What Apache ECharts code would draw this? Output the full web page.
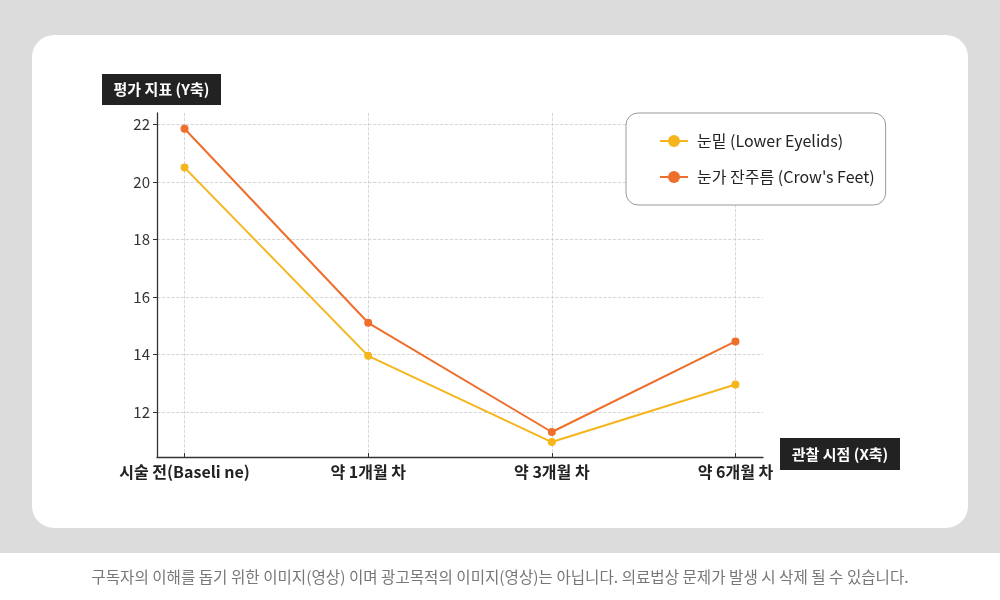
<!DOCTYPE html>
<html>
<head>
<meta charset="utf-8">
<script src="https://cdn.jsdelivr.net/npm/echarts@6/dist/echarts.min.js"></script>
<style>
  html, body { margin: 0; padding: 0; background: #fff; }
  #chart { width: 1000px; height: 600px; }
</style>
</head>
<body>
<div id="chart"></div>
<script>
// 관찰 시점 (x) 과 두 부위 평가 지표
const categories = ['시술 전(Baseli ne)', '약 1개월 차', '약 3개월 차', '약 6개월 차'];
const underEye = [20.5, 13.95, 10.95, 12.95];
const crowsFeet = [21.85, 15.1, 11.3, 14.45];
const yTicks = [12, 14, 16, 18, 20, 22];
const xTicks = [0, 1, 2, 3];

const seriesNames = ['눈밑 (Lower Eyelids)', '눈가 잔주름 (Crow\'s Feet)'];
const colors = ['#F5B51C', '#EE6E2B'];
const FONT = '"Noto Sans CJK KR", "Noto Sans", sans-serif';

function toPairs(arr) {
  return arr.map(function (v, i) { return [i, v]; });
}

let myChart = echarts.init(document.getElementById('chart'));

let option = {
  animation: false,
  textStyle: { fontFamily: FONT },
  graphic: [
    { type: 'rect', z: -10, shape: { x: 0, y: 0, width: 1000, height: 553 }, style: { fill: '#dcdcdc' } },
    { type: 'rect', z: -9, shape: { x: 32, y: 35, width: 936, height: 493, r: 22 }, style: { fill: '#fff' } },
    // y 축 제목 박스
    { type: 'rect', shape: { x: 102, y: 74, width: 119, height: 31 }, style: { fill: '#222' } },
    { type: 'text', x: 161.5, y: 89.5, style: { text: '평가 지표 (Y축)', fill: '#fff', font: 'bold 15px ' + FONT, align: 'center', verticalAlign: 'middle' } },
    // x 축 제목 박스
    { type: 'rect', shape: { x: 780, y: 438, width: 120, height: 32 }, style: { fill: '#222' } },
    { type: 'text', x: 840, y: 454, style: { text: '관찰 시점 (X축)', fill: '#fff', font: 'bold 15px ' + FONT, align: 'center', verticalAlign: 'middle' } },
    // 하단 안내문
    { type: 'text', x: 500, y: 577, style: { text: '구독자의 이해를 돕기 위한 이미지(영상) 이며 광고목적의 이미지(영상)는 아닙니다. 의료법상 문제가 발생 시 삭제 될 수 있습니다.', fill: '#777', font: '15.6px ' + FONT, align: 'center', verticalAlign: 'middle' } }
  ],
  legend: {
    orient: 'vertical',
    left: 626,
    top: 113,
    data: seriesNames,
    backgroundColor: '#fff',
    borderColor: '#999',
    borderWidth: 1,
    borderRadius: 12,
    padding: [20, 11, 20, 33],
    itemWidth: 28,
    itemHeight: 15,
    itemGap: 20,
    textStyle: { fontSize: 16, color: '#222', fontFamily: FONT, padding: [0, 0, 0, 4] }
  },
  grid: { left: 157, right: 237, top: 113, bottom: 143, containLabel: false },
  xAxis: {
    type: 'value',
    min: -0.15,
    max: 3.15,
    axisLine: { show: true, onZero: false, lineStyle: { color: '#333', width: 1.3 } },
    axisTick: { show: true, inside: true, length: 4, customValues: xTicks, lineStyle: { color: '#333' } },
    axisLabel: {
      customValues: xTicks,
      margin: 7,
      fontSize: 16,
      fontWeight: 'bold',
      color: '#222',
      formatter: function (v) { return categories[Math.round(v)]; }
    },
    splitLine: { show: true, lineStyle: { color: '#ccc', type: 'dashed', width: 0.8 } }
  },
  yAxis: {
    type: 'value',
    min: 10.43,
    max: 22.4,
    axisLine: { show: true, onZero: false, lineStyle: { color: '#333', width: 1.3 } },
    axisTick: { show: true, length: 4, customValues: yTicks, lineStyle: { color: '#333' } },
    axisLabel: { customValues: yTicks, margin: 7, fontSize: 15, color: '#333' },
    splitLine: { show: true, lineStyle: { color: '#ccc', type: 'dashed', width: 0.8 } }
  },
  series: [
    {
      name: seriesNames[0],
      type: 'line',
      data: toPairs(underEye),
      symbol: 'circle',
      symbolSize: 8,
      lineStyle: { width: 2, color: colors[0] },
      itemStyle: { color: colors[0] }
    },
    {
      name: seriesNames[1],
      type: 'line',
      data: toPairs(crowsFeet),
      symbol: 'circle',
      symbolSize: 8,
      lineStyle: { width: 2, color: colors[1] },
      itemStyle: { color: colors[1] }
    }
  ]
};

myChart.setOption(option);
</script>
</body>
</html>
